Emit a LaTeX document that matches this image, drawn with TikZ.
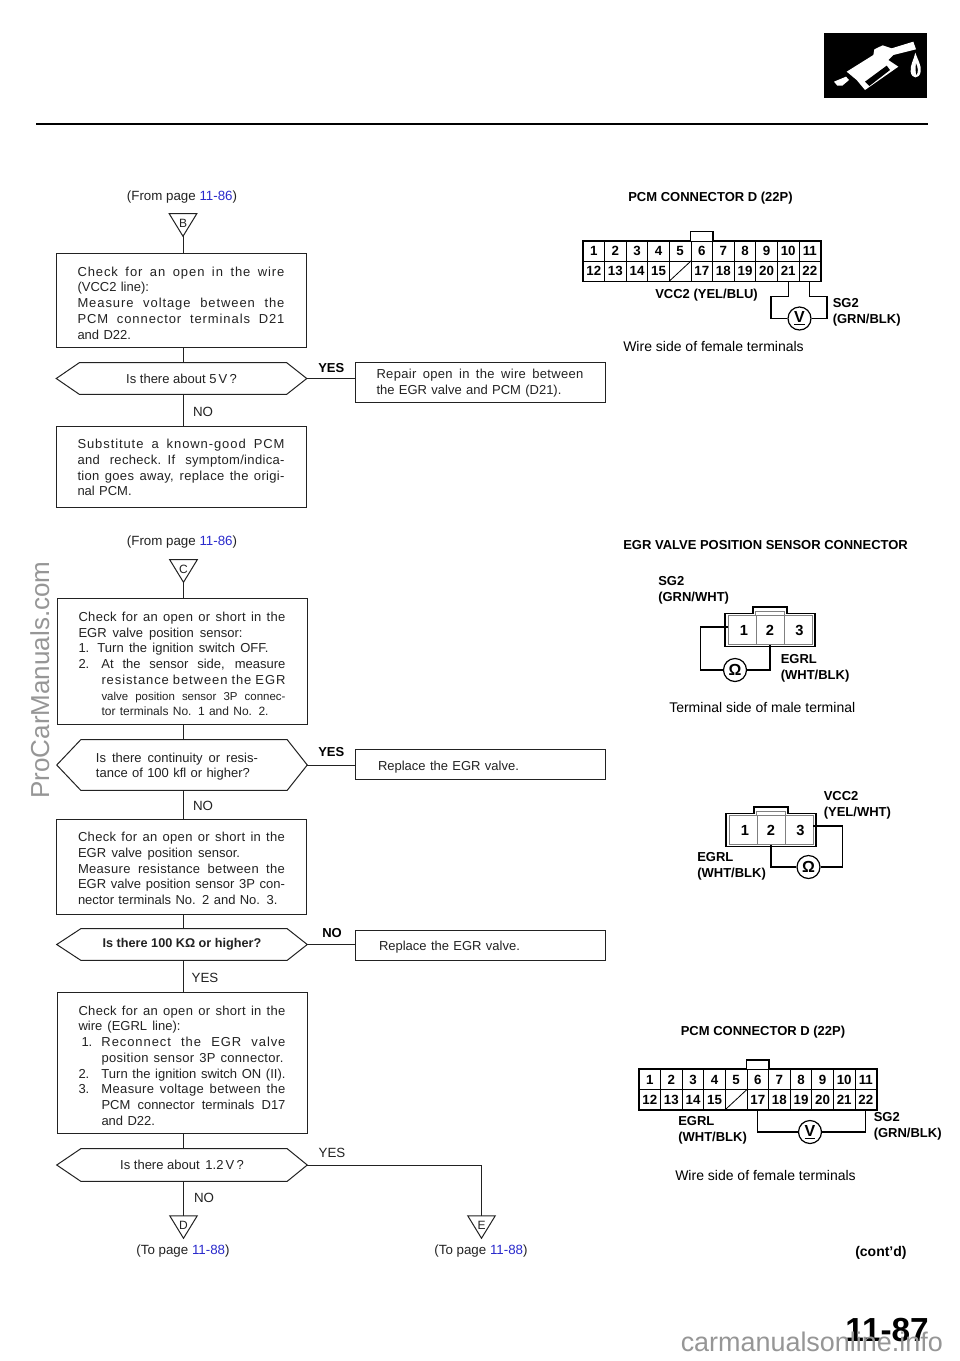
\documentclass[tikz,border=0pt]{standalone}
\usepackage{fontspec}
\setmainfont{Liberation Sans}
\usetikzlibrary{calc}
\definecolor{ink}{HTML}{222222}
\definecolor{linkblue}{HTML}{2A2ACC}
\definecolor{wm}{HTML}{969696}
\def\px{0.75pt}
\newcommand\sk{\spaceskip=.278em plus 1fil minus .08em\relax}
\newcommand\tg[1]{\rule{0pt}{#1}}
\newcommand\jl[2][0pt]{\noindent\hspace*{#1}\hbox to \dimexpr\hsize-#1\relax{\sk #2}\par}
\newcommand\mjl[2][0pt]{\noindent\hspace*{#1}\hbox to \dimexpr\hsize-#1\relax{\addfontfeature{LetterSpace=2.5}\sk #2}\par}
\newcommand\lsjl[2][0pt]{\noindent\hspace*{#1}\hbox to \dimexpr\hsize-#1\relax{\addfontfeature{LetterSpace=7}\sk #2}\par}
\newcommand\pl[2][0pt]{\noindent\hspace*{#1}#2\par}
\newcommand\wl[3][0pt]{\noindent\hspace*{#1}\hbox to #2{\sk #3}\par}
\tikzset{
  conn/.style={line width=1*\px,draw=ink},
  stepbox/.style={draw=ink,line width=1*\px,inner xsep=21.5*\px,inner ysep=0pt,
    text width=207*\px,minimum width=250*\px,align=left,text=ink,
    font=\fontsize{9.75}{11.8}\selectfont},
  hexa/.style={inner sep=0pt,minimum width=250*\px,align=center,text=ink,
    font=\fontsize{9.75}{11.8}\selectfont},
  note/.style={inner sep=0pt,text=ink,font=\fontsize{10}{11.8}\selectfont},
  bold/.style={inner sep=0pt,anchor=west,align=left,text=black,
    font=\fontsize{9.75}{12}\selectfont\bfseries},
  plainb/.style={inner sep=0pt,anchor=west,text=black,font=\fontsize{10.5}{12}\selectfont},
  tri/.style={inner sep=0pt,minimum width=27*\px,minimum height=22*\px,text=ink,
    font=\fontsize{9}{10}\selectfont},
  cellb/.style={draw=black,line width=1*\px,inner sep=0pt,minimum width=21.6*\px,
    minimum height=20*\px,font=\fontsize{10}{11}\selectfont\bfseries},
  cellg/.style={draw=gray,line width=.8*\px,inner sep=0pt,minimum width=28*\px,
    minimum height=29*\px,font=\fontsize{11}{13}\selectfont\bfseries},
  meter/.style={circle,draw=black,fill=white,line width=1.2*\px,inner sep=0pt,minimum size=23*\px,
    font=\fontsize{12}{13}\selectfont\bfseries},
  wire/.style={line width=1.2*\px,draw=black},
  outer/.style={line width=1.3*\px,draw=black},
}
\newcommand\hexshape[3]{% name, left inset, right inset
  \draw[conn] (#1.west) -- ($(#1.north west)+(#2,0)$) -- ($(#1.north east)+(-#3,0)$)
    -- (#1.east) -- ($(#1.south east)+(-#3,0)$) -- ($(#1.south west)+(#2,0)$) -- cycle;}
\newcommand\triangleshape[1]{%
  \draw[conn] (#1.north west) -- (#1.north east) -- (#1.south) -- cycle;}
\newcommand\pcmgrid[3]{% prefix, left x, top y
  \foreach \i in {0,...,10}{
    \pgfmathtruncatemacro\nA{\i+1}
    \pgfmathtruncatemacro\nB{\i+12}
    \node[cellb] (#1-\nA) at ({#2+(\i+.5)*21.6},{#3+10}) {\nA};
    \ifnum\nB=16
      \node[cellb] (#1-\nB) at ({#2+(\i+.5)*21.6},{#3+30}) {};
      \draw[line width=.8*\px] (#1-\nB.south west) -- (#1-\nB.north east);
    \else
      \node[cellb] (#1-\nB) at ({#2+(\i+.5)*21.6},{#3+30}) {\nB};
    \fi
  }
  \draw[outer] (#1-1.north west) -- (#1-6.north west) -- ++(0,-9) -| (#1-6.north east)
    -- (#1-11.north east) -- (#1-22.south east) -- (#1-12.south west) -- cycle;
}
\newcommand\threeP[3]{% prefix, left x, top y
  \node[cellg] (#1-1) at ({#2+17},{#3+16.5}) {\hspace*{3pt}1};
  \node[cellg] (#1-2) at ({#2+45},{#3+16.5}) {2};
  \node[cellg] (#1-3) at ({#2+73},{#3+16.5}) {3\hspace*{-2pt}};
  \draw[outer] ({#2},{#3}) -- ++(28,0) -- ++(0,-6.5) -- ++(34,0) -- ++(0,6.5) -- ++(28,0)
    -- ++(0,33) -- ++(-90,0) -- cycle;
  \draw[draw=gray,line width=.8*\px] (#1-2.north west) -- ++(0,-3.5) -| (#1-2.north east);
}
\begin{document}
\begin{tikzpicture}[x=0.75pt,y=-0.75pt]
\useasboundingbox (0,0) rectangle (960,1361);
\fill[white] (0,0) rectangle (960,1361);

% ---- page header
\coordinate (ruleL) at (36,124);
\coordinate (ruleR) at (928,124);
\draw[line width=2*\px,draw=black] (ruleL) -- (ruleR);
\begin{scope}[shift={(810,20)},x=.25pt,y=-.25pt]
  \fill[black] (43,40) rectangle (352,235);
  \fill[white] (110,155) -- (190,105) -- (193,88) -- (218,76) -- (245,85) -- (310,65) -- (318,88)
    -- (250,105) -- (235,120) -- (265,140) -- (165,210) -- (140,180) -- cycle;
  \fill[black] (165,185) -- (230,137) -- (240,150) -- (178,198) -- cycle;
  \fill[white] (72,185) -- (108,170) -- (117,180) -- (97,197) -- (82,197) -- cycle;
  \fill[white] (316,98) .. controls (322,118) and (335,135) .. (332,155)
    .. controls (328,178) and (305,178) .. (302,155) .. controls (300,135) and (312,118) .. (316,98) -- cycle;
  \fill[black] (318,130) .. controls (324,145) and (326,155) .. (319,165)
    .. controls (316,155) and (316,145) .. (318,130) -- cycle;
\end{scope}

% ---- upper flow
\node[note] (fromB) at (182,197) {(From page \textcolor{linkblue}{11-86})};
\node[tri] (tB) at (183,225) {\raisebox{2.5pt}{B}};
\triangleshape{tB}
\node[stepbox,minimum height=94*\px] (b1) at (181,300) {\tg{11.6pt}%
  \lsjl{Check for an open in the wire}
  \pl{(VCC2 line):}
  \lsjl{Measure voltage between the}
  \lsjl{PCM connector terminals D21}
  \pl{and D22.}};
\node[hexa,minimum height=31*\px] (d1) at (181.5,378.5) {\raisebox{-.75pt}{Is there about 5\,V\,?}};
\hexshape{d1}{23}{20}
\node[stepbox,minimum height=40*\px] (r1) at (480,382) {\tg{8.6pt}%
  \mjl{Repair open in the wire between}
  \pl{the EGR valve and PCM (D21).}};
\node[stepbox,minimum height=81*\px] (b2) at (181,466.5) {\tg{8.6pt}%
  \lsjl{Substitute a known-good PCM}
  \mjl{and recheck. If symptom/indica-}
  \mjl{tion goes away, replace the origi-}
  \pl{nal PCM.}};
\node[bold] (yes1) at (318,368) {YES};
\node[note] (no1) at (203,412) {NO};
\draw[conn] (tB.south) -- (tB.south |- b1.north);
\draw[conn] (tB.south |- b1.south) -- (tB.south |- d1.north);
\draw[conn] (tB.south |- d1.south) -- (tB.south |- b2.north);
\draw[conn] (d1.east) -- (r1.west |- d1.east);

% ---- middle flow
\node[note] (fromC) at (182,542) {(From page \textcolor{linkblue}{11-86})};
\node[tri] (tC) at (183.5,571) {\raisebox{2.5pt}{C}};
\triangleshape{tC}
\node[stepbox,minimum height=126*\px] (b3) at (182,661) {\tg{11.6pt}%
  \mjl{Check for an open or short in the}
  \wl{123pt}{EGR valve position sensor:}
  \wl{142.5pt}{\makebox[14.25pt][l]{1.}Turn the ignition switch OFF.}
  \jl{\makebox[17.25pt][l]{2.}At the sensor side, measure}
  \lsjl[17.25pt]{resistance between the EGR}
  {\fontsize{8.6}{11.8}\selectfont\jl[17.25pt]{valve position sensor 3P connec-}}
  {\fontsize{9}{11.8}\selectfont\pl[17.25pt]{tor terminals No. 1 and No. 2.}}};
\node[hexa,minimum height=50*\px,text width=163*\px,align=left] (d2) at (182,765) {\tg{9.35pt}%
  \wl[-3.4pt]{121.5pt}{Is there continuity or resis-}
  \pl[-3.4pt]{tance of 100 kfl or higher?}};
\hexshape{d2}{24}{20}
\node[stepbox,minimum height=30*\px] (r2) at (480.5,764) {\tg{11.6pt}\pl[.75pt]{Replace the EGR valve.}};
\node[bold] (yes2) at (318,752) {YES};
\node[note] (no2) at (203,806) {NO};
\node[stepbox,minimum height=95*\px] (b4) at (181.5,866.5) {\tg{10.1pt}%
  \mjl{Check for an open or short in the}
  \wl{121.5pt}{EGR valve position sensor.}
  \mjl{Measure resistance between the}
  \jl{EGR valve position sensor 3P con-}
  \pl{nector terminals No. 2 and No. 3.}};
\node[hexa,minimum height=31*\px,font=\fontsize{9.5}{11.8}\selectfont\bfseries] (d3) at (182,944.5) {\raisebox{-1.5pt}{Is there 100 KΩ or higher?}};
\hexshape{d3}{24}{20}
\node[stepbox,minimum height=30*\px] (r3) at (480.5,945) {\tg{10.85pt}\pl[1.5pt]{Replace the EGR valve.}};
\node[bold] (no3) at (322,933) {NO};
\node[note] (yes3) at (205,978) {YES};
\draw[conn] (tC.south) -- (tC.south |- b3.north);
\draw[conn] (tC.south |- b3.south) -- (tC.south |- d2.north);
\draw[conn] (tC.south |- d2.south) -- (tC.south |- b4.north);
\draw[conn] (tC.south |- b4.south) -- (tC.south |- d3.north);
\draw[conn] (d2.east) -- (r2.west |- d2.east);
\draw[conn] (d3.east) -- (r3.west |- d3.east);

% ---- lower flow
\node[stepbox,minimum height=141*\px] (b5) at (182,1062.5) {\tg{11.6pt}%
  \mjl{Check for an open or short in the}
  \wl{76.5pt}{wire (EGRL line):}
  \jl[2.25pt]{\makebox[15pt][l]{1.}\addfontfeature{LetterSpace=7}\sk Reconnect the EGR valve}
  \wl[17.25pt]{136.5pt}{\addfontfeature{LetterSpace=2.5}\sk position sensor 3P connector.}
  \jl{\makebox[17.25pt][l]{2.}Turn the ignition switch ON (II).}
  \jl{\makebox[17.25pt][l]{3.}\addfontfeature{LetterSpace=2.5}\sk Measure voltage between the}
  \jl[17.25pt]{PCM connector terminals D17}
  \pl[17.25pt]{and D22.}};
\node[hexa,minimum height=32*\px] (d4) at (182,1165) {Is there about \,1.2\,V\,?};
\hexshape{d4}{24}{20}
\node[note] (yes4) at (332,1153) {YES};
\node[note] (no4) at (204,1198) {NO};
\node[tri] (tD) at (183.5,1227) {\raisebox{2.5pt}{D}};
\triangleshape{tD}
\node[tri] (tE) at (481.5,1227) {\raisebox{2.5pt}{E}};
\triangleshape{tE}
\node[note] (toD) at (183,1251.5) {(To page \textcolor{linkblue}{11-88})};
\node[note] (toE) at (481,1251.5) {(To page \textcolor{linkblue}{11-88})};
\draw[conn] (tC.south |- d3.south) -- (tC.south |- b5.north);
\draw[conn] (tC.south |- b5.south) -- (tC.south |- d4.north);
\draw[conn] (tC.south |- d4.south) -- (tD.north);
\draw[conn] (d4.east) -| (tE.north);

% ---- PCM connector, upper
\node[bold] (t1) at (628,198) {PCM CONNECTOR D (22P)};
\pcmgrid{p}{583}{241}
\node[meter] (m1) at (799.5,318.5) {\underline{V}};
\coordinate (w1) at (771,296.5);
\coordinate (w2) at (827,296.5);
\draw[wire] (p-21.south) |- (w1) |- (m1.west);
\draw[wire] (m1.east) -| (w2) -| (p-22.south);
\node[bold] (vcc1) at (655,295) {VCC2 (YEL/BLU)};
\node[bold] (sg1) at (832.5,312) {SG2\\(GRN/BLK)};
\node[plainb] (w1t) at (623,346) {Wire side of female terminals};

% ---- EGR connector, upper
\node[bold] (t2) at (623,545) {EGR VALVE POSITION SENSOR CONNECTOR};
\node[bold] (sg2) at (658,590) {SG2\\(GRN/WHT)};
\threeP{k}{725}{613.5}
\node[meter] (m2) at (735,670) {Ω};
\coordinate (w3) at ($(k-1.west)+(-27,-3)$);
\draw[wire] ($(k-1.west)+(0,-3)$) -- (w3) |- (m2.west);
\draw[wire] (m2.east) -| (k-2.south);
\node[bold] (egrl1) at (780.5,668) {EGRL\\(WHT/BLK)};
\node[plainb] (t2b) at (669,707.5) {Terminal side of male terminal};

% ---- EGR connector, lower
\node[bold] (vcc3) at (823.5,805) {VCC2\\(YEL/WHT)};
\threeP{q}{726}{813.5}
\node[meter] (m3) at (808.5,867) {Ω};
\coordinate (w4) at ($(q-3.east)+(29,-4)$);
\draw[wire] ($(q-3.east)+(0,-4)$) -- (w4) |- (m3.east);
\draw[wire] (m3.west) -| (q-2.south);
\node[bold] (egrl2) at (697,866) {EGRL\\(WHT/BLK)};

% ---- PCM connector, lower
\node[bold] (t4) at (680.5,1032.5) {PCM CONNECTOR D (22P)};
\pcmgrid{g}{639}{1069.5}
\node[meter] (m4) at (810,1132) {\underline{V}};
\draw[wire] (g-17.south) |- (m4.west);
\draw[wire] (m4.east) -| (g-22.south);
\node[bold] (egrl3) at (678,1130) {EGRL\\(WHT/BLK)};
\node[bold] (sg4) at (873.5,1126) {SG2\\(GRN/BLK)};
\node[plainb] (w4t) at (675,1175) {Wire side of female terminals};

% ---- page footer
\node[inner sep=0pt,anchor=west,text=black,font=\fontsize{10.5}{12}\selectfont\bfseries] (cont) at (855,1253) {(cont’d)};
\node[inner sep=0pt,anchor=east,text=black,font=\fontsize{25}{28}\selectfont\bfseries] (pg) at (929,1330) {11-87};
\node[inner sep=0pt,anchor=base west,text=wm,font=\fontsize{20.2}{24}\selectfont] (wm1) at (680.5,1351.5) {carmanualsonline.info};
\node[inner sep=0pt,anchor=base,rotate=90,text=wm,font=\fontsize{19.5}{24}\selectfont] (wm2) at (49,680) {ProCarManuals.com};
\end{tikzpicture}
\end{document}
